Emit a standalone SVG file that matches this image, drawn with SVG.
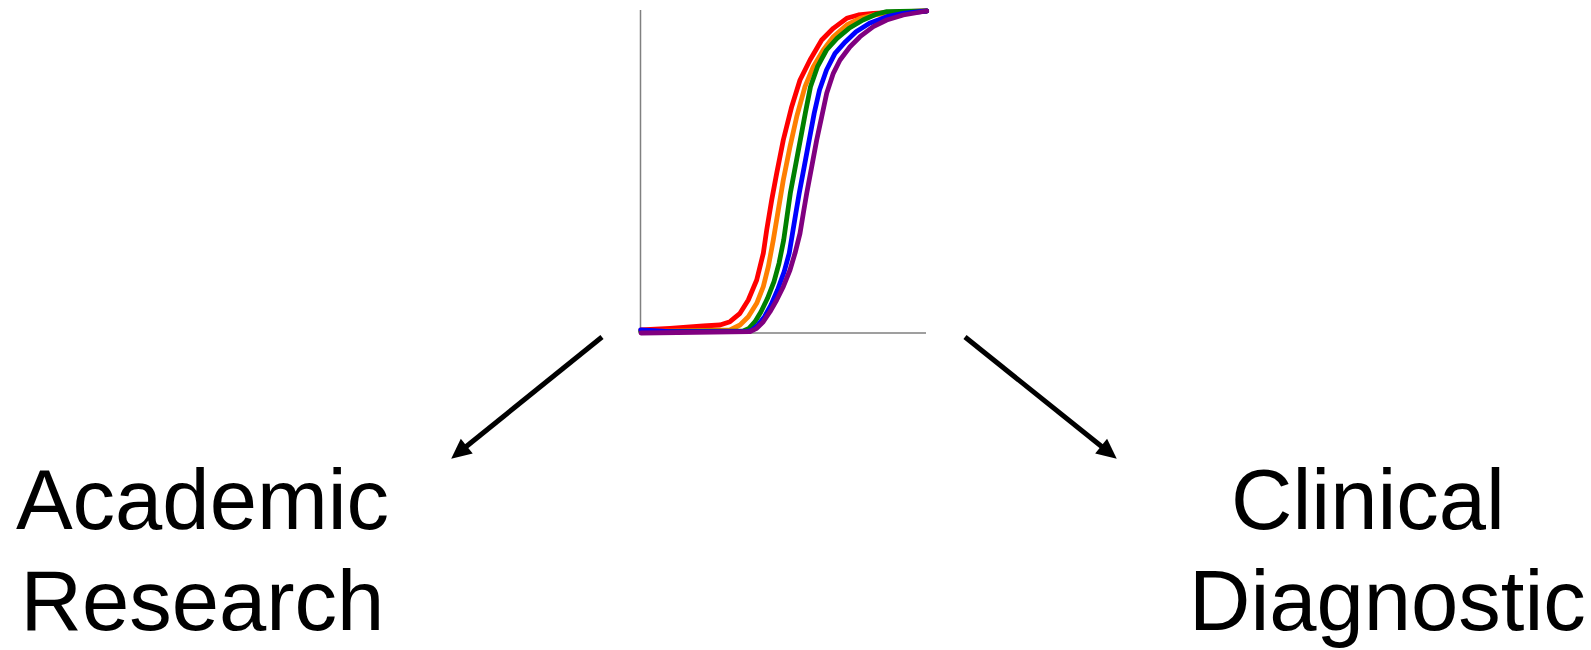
<svg xmlns="http://www.w3.org/2000/svg" width="1591" height="650" viewBox="0 0 1591 650">
<style>
.lbl{font-family:"Liberation Sans",Arial,sans-serif;font-size:85px;fill:#000}
.curve{fill:none;stroke-width:4.8;stroke-linejoin:round;stroke-linecap:round}
.axis{stroke:#808080;stroke-width:1.5;fill:none}
.conn{stroke:#000;stroke-width:5;fill:none}
</style>
<defs>
<marker id="ah" markerUnits="userSpaceOnUse" markerWidth="20" markerHeight="19" refX="7" refY="9.5" orient="auto" overflow="visible">
<path d="M0,0 L20,9.5 L0,19 z" fill="#000"/>
</marker>
</defs>
<rect width="1591" height="650" fill="#fff"/>
<g id="chart">
<path class="axis" d="M640.5,10 V333 H926"/>
<polyline class="curve" stroke="#ff0000" points="640.7,330 670,328.3 703.3,326 720,325 730,321.7 740,313.3 748.3,300 756.7,280 763.3,253.3 766.7,230 771.7,200 776.7,173.3 783.3,140 791.7,106.7 800,80 810,60 821.7,40 833.3,28.3 846.7,18.3 858.3,15 873.3,13.3 886.7,12.7 903.3,11.7 926.7,11"/>
<polyline class="curve" stroke="#ff7f00" points="641,331.7 730,330 740,325 748.3,316.7 756.7,303.3 763.3,286.7 768.3,266.7 773.3,240 778.3,210 783.3,180 790,146.7 796.7,116.7 805,86.7 813.3,66.7 823.3,50 833.3,36.7 846.7,25 860,18.3 873.3,15 886.7,13.3 903.3,12.3 926.7,11"/>
<polyline class="curve" stroke="#008000" points="640.7,331.7 743.3,331 749,328.3 755,321.7 761,311.7 767.5,298.3 774,281.7 779,263.3 783.7,240 787,216.7 790.3,193.3 795.3,166.7 800.3,140 805.3,113.3 810.5,86.7 817.5,66.7 826.5,50 837,38.3 849,28.3 863,20 876.7,14 886.7,11.7 926.7,11"/>
<polyline class="curve" stroke="#0000ff" points="640.7,330 670,331.7 746.7,331.7 752,330 758,325 764.5,316.7 771,305 777.5,290 784.2,271.7 789.2,253.3 792.5,233.3 795.8,213.3 799.2,193.3 804.2,166.7 809.2,140 814.2,113.3 819.5,90 826.5,70 835,53.3 845.5,41.7 856,31.7 869.5,23.3 886.7,16.7 903.3,13.3 926.7,11"/>
<polyline class="curve" stroke="#800080" points="641,333 750,331.7 756.7,328.3 763.3,321.7 770,311.7 776.7,300 783.3,286.7 790,270 795,253.3 800,233.3 803.3,213.3 806.7,193.3 811.7,166.7 816.7,140 821.7,116.7 826.7,93.3 833.3,73.3 840,60 850,46.7 860,36.7 873.3,26.7 886.7,20 903.3,15 926.7,11"/>
</g>
<g id="connectors">
<line class="conn" x1="602" y1="337" x2="461.3" y2="450.5" marker-end="url(#ah)"/>
<line class="conn" x1="965" y1="337" x2="1106.6" y2="450.5" marker-end="url(#ah)"/>
</g>
<g id="academic">
<text class="lbl" x="202.5" y="529" text-anchor="middle">Academic</text>
<text class="lbl" x="202.5" y="630" text-anchor="middle">Research</text>
</g>
<g id="clinical">
<text class="lbl" x="1231" y="529">Clinical</text>
<text class="lbl" x="1189" y="630">Diagnostic</text>
</g>
</svg>
